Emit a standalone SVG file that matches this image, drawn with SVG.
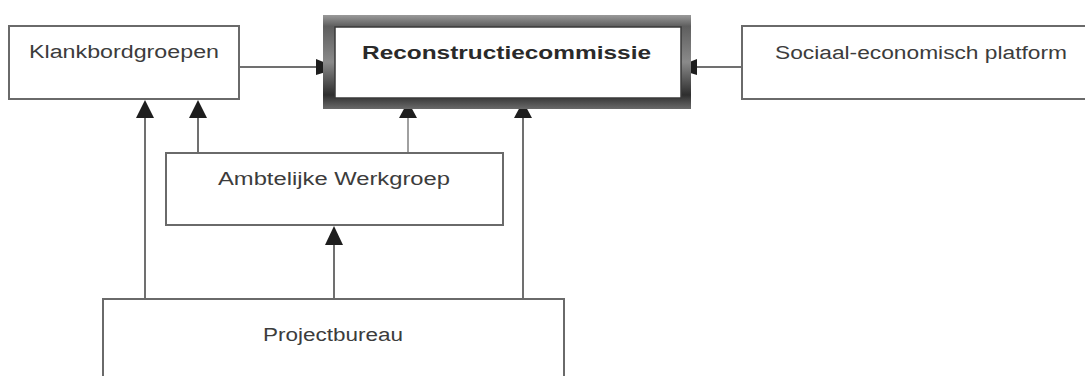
<svg xmlns="http://www.w3.org/2000/svg" width="1085" height="376" viewBox="0 0 1085 376">
  <style>
    .box { fill: #ffffff; stroke: #6a6a6a; stroke-width: 2; }
    .lbl { font-family: "Liberation Sans", Arial, sans-serif; font-size: 18px; fill: #3c3c3c; }
    .bold { font-weight: bold; fill: #2a2a2a; }
    .con { stroke: #707070; stroke-width: 2; fill: none; }
    .light { stroke: #a0a0a0; }
    .head { fill: #1e1e1e; }
  </style>
  <defs>
    <linearGradient id="frame" x1="0" y1="0" x2="0" y2="1">
      <stop offset="0" stop-color="#9a9a9a"/>
      <stop offset="0.12" stop-color="#5e5e5e"/>
      <stop offset="0.5" stop-color="#8a8a8a"/>
      <stop offset="0.85" stop-color="#2e2e2e"/>
      <stop offset="1" stop-color="#6a6a6a"/>
    </linearGradient>
  </defs>

  <g id="connectors">
    <!-- Klankbordgroepen -> Reconstructiecommissie -->
    <line class="con" x1="240" y1="67" x2="318" y2="67"/>
    <polygon class="head" points="316,59 326,63 326,72 316,75"/>
    <!-- Sociaal-economisch platform -> Reconstructiecommissie -->
    <line class="con" x1="742" y1="67" x2="695" y2="67"/>
    <polygon class="head" points="697,59 687,63 687,72 697,75"/>
    <!-- Projectbureau -> Klankbordgroepen -->
    <line class="con" x1="145" y1="299" x2="145" y2="115"/>
    <polygon class="head" points="136,118 154,118 145,100"/>
    <!-- Ambtelijke Werkgroep -> Klankbordgroepen -->
    <line class="con" x1="198" y1="153" x2="198" y2="115"/>
    <polygon class="head" points="189,118 207,118 198,100"/>
    <!-- Ambtelijke Werkgroep -> Reconstructiecommissie -->
    <line class="con light" x1="408" y1="153" x2="408" y2="115"/>
    <polygon class="head" points="399,118 417,118 410,105 406,105"/>
    <!-- Projectbureau -> Reconstructiecommissie -->
    <line class="con" x1="523" y1="299" x2="523" y2="115"/>
    <polygon class="head" points="514,118 532,118 525,105 521,105"/>
    <!-- Projectbureau -> Ambtelijke Werkgroep -->
    <line class="con" x1="334" y1="299" x2="334" y2="242"/>
    <polygon class="head" points="325,245 343,245 334,226"/>
  </g>

  <g id="klankbordgroepen">
    <rect class="box" x="9" y="26" width="230" height="73"/>
    <text class="lbl" x="29" y="58" textLength="190" lengthAdjust="spacingAndGlyphs">Klankbordgroepen</text>
  </g>

  <g id="reconstructiecommissie">
    <rect x="323" y="15" width="368" height="94" fill="url(#frame)"/>
    <rect x="335" y="27" width="346" height="71" fill="#ffffff" stroke="#3a3a3a" stroke-width="1.5"/>
    <text class="lbl bold" x="362" y="59" textLength="289" lengthAdjust="spacingAndGlyphs">Reconstructiecommissie</text>
  </g>

  <g id="sociaal-economisch-platform">
    <rect class="box" x="742" y="26" width="360" height="73"/>
    <text class="lbl" x="775" y="59" textLength="292" lengthAdjust="spacingAndGlyphs">Sociaal-economisch platform</text>
  </g>

  <g id="ambtelijke-werkgroep">
    <rect class="box" x="166" y="153" width="337" height="72"/>
    <text class="lbl" x="218" y="185" textLength="232" lengthAdjust="spacingAndGlyphs">Ambtelijke Werkgroep</text>
  </g>

  <g id="projectbureau">
    <rect class="box" x="103" y="299" width="461" height="100"/>
    <text class="lbl" x="263" y="341" textLength="140" lengthAdjust="spacingAndGlyphs">Projectbureau</text>
  </g>
</svg>
